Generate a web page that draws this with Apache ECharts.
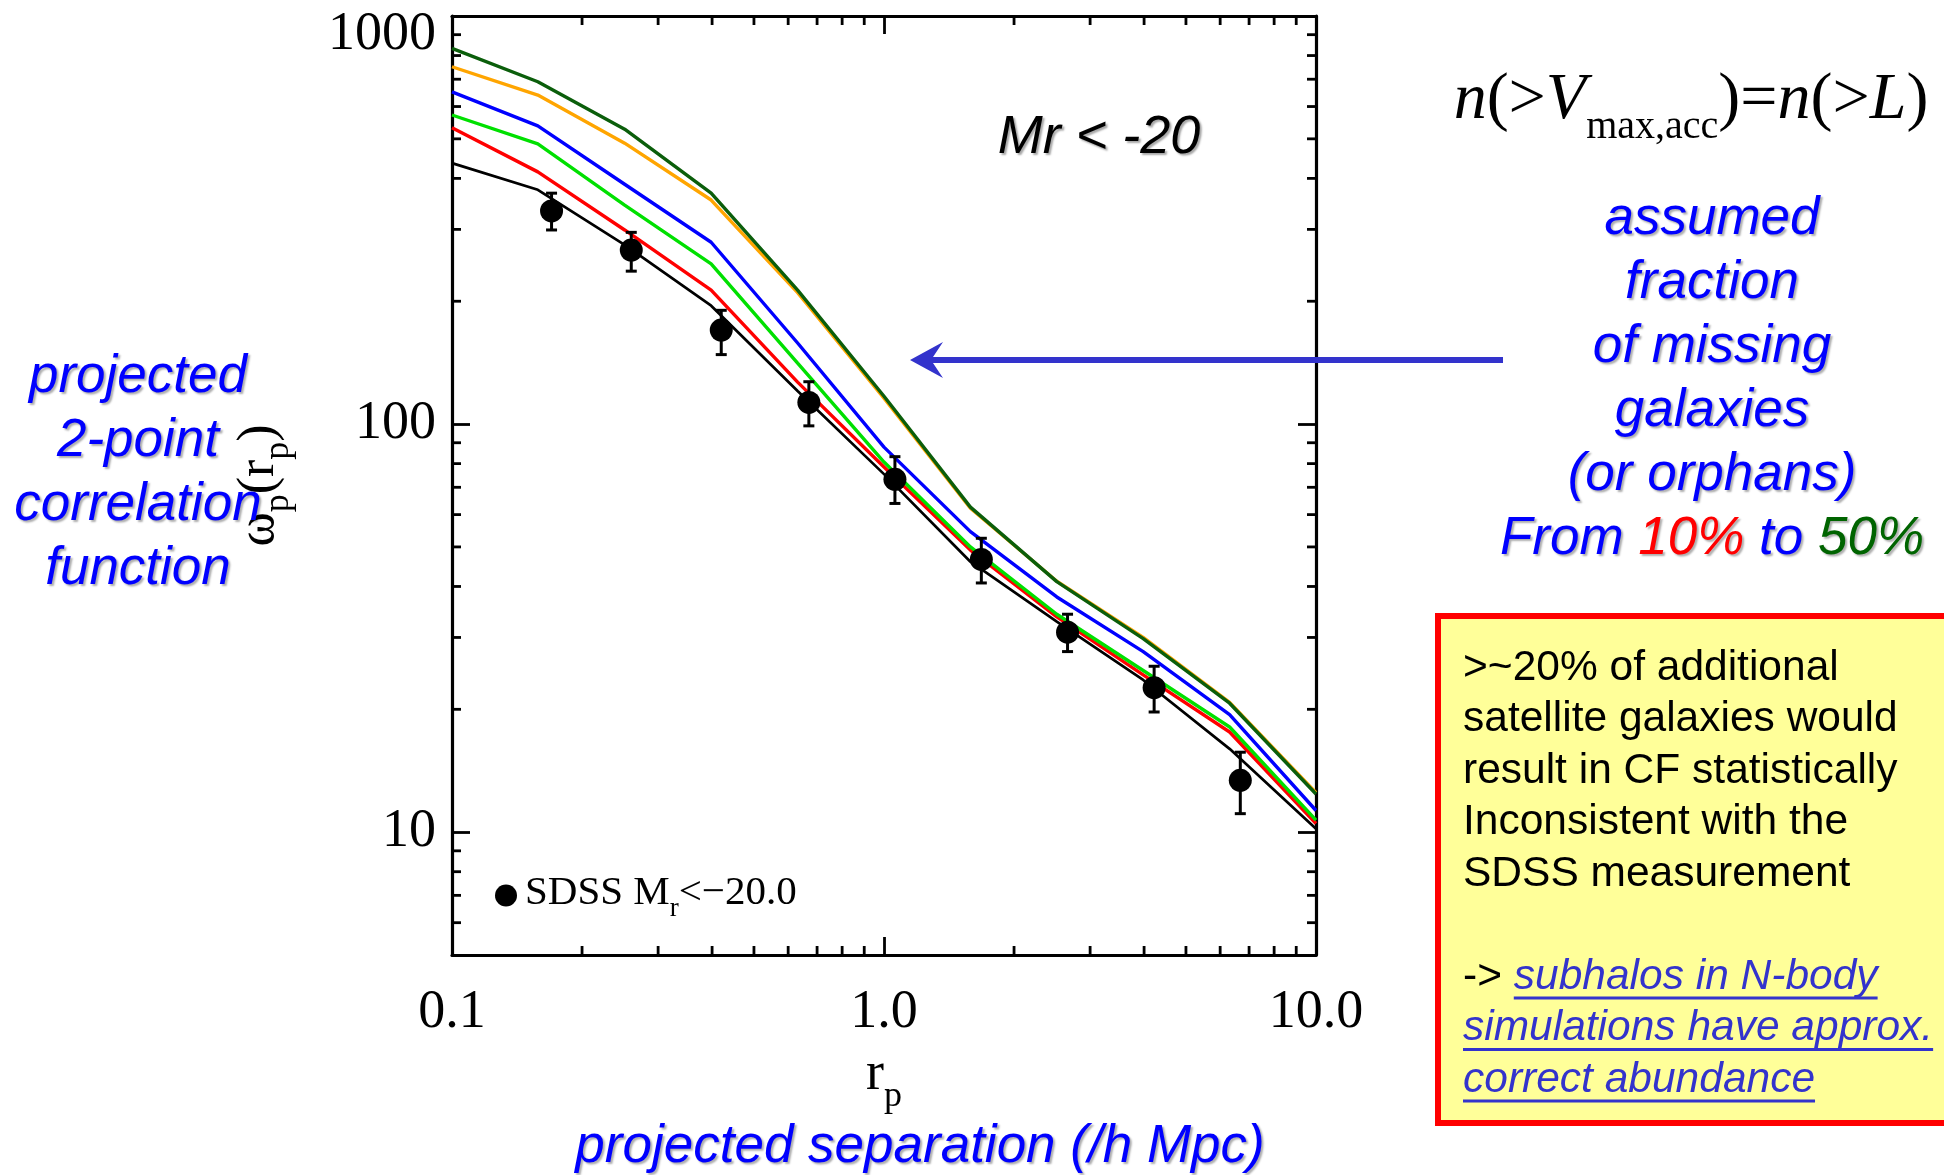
<!DOCTYPE html>
<html>
<head>
<meta charset="utf-8">
<script src="https://cdn.jsdelivr.net/npm/echarts@6/dist/echarts.min.js"></script>
<style>
  html, body { margin: 0; padding: 0; background: #ffffff; }
  #chart { width: 1944px; height: 1175px; }
</style>
</head>
<body>
<div id="chart"></div>
<script>
// Projected separation bins of the model curves (h^-1 Mpc)
const modelRp = [0.1, 0.158, 0.251, 0.398, 0.631, 1.0, 1.585, 2.512, 3.981, 6.310, 10.0];
// w_p(r_p) for the subhalo model with different fractions of orphan galaxies
const wpNoOrphans = [436, 375, 275, 195, 120.5, 75.4, 46.0, 32.8, 23.6, 16.0, 10.2];
const wpOrphans10 = [532, 415, 299, 213, 126.7, 78.5, 49.1, 33.7, 24.3, 17.6, 10.5];
const wpOrphans20 = [572, 486, 344, 247, 141, 80.7, 50.0, 34.2, 24.9, 18.1, 10.7];
const wpOrphans30 = [652, 538, 387, 279, 158, 87.8, 54.5, 37.7, 27.7, 19.4, 11.3];
const wpOrphans40 = [751, 640, 488, 354, 210, 115.8, 62.2, 41.2, 30.0, 20.8, 12.5];
const wpOrphans50 = [833, 690, 528, 368, 213, 117, 62.6, 41.1, 29.8, 20.7, 12.4];

// SDSS measurement, Mr < -20
const sdssRp = [0.17, 0.26, 0.42, 0.67, 1.06, 1.68, 2.66, 4.22, 6.68];
const sdssWp = [333, 267, 170, 113, 73.2, 46.6, 30.9, 22.6, 13.4];
const sdssLo = [299, 237, 148, 99, 63.9, 40.8, 27.7, 19.7, 11.1];
const sdssHi = [368, 295, 190, 127, 83.2, 52.5, 34.2, 25.5, 15.7];

// Axes
const X_MIN = 0.1, X_MAX = 10;
const Y_MIN = 5, Y_MAX = 1000;
const xTickValues = [0.1, 1, 10];
const xTickLabels = ['0.1', '1.0', '10.0'];
const yTickValues = [10, 100, 1000];
const yTickLabels = ['10', '100', '1000'];
const xMinorTicks = [0.2, 0.3, 0.4, 0.5, 0.6, 0.7, 0.8, 0.9, 2, 3, 4, 5, 6, 7, 8, 9];
const yMinorTicks = [6, 7, 8, 9, 20, 30, 40, 50, 60, 70, 80, 90, 200, 300, 400, 500, 600, 700, 800, 900];

const SERIF = '"Liberation Serif", "DejaVu Serif", serif';
const SANS = '"Liberation Sans", Arial, sans-serif';
const BLUE = '#0000FF';
const LINK = '#3333CC';
const MAJOR_LEN = 18, MINOR_LEN = 9, TICK_W = 2.8;

function labelFor(values, labels, v) {
  for (let i = 0; i < values.length; i++) {
    if (Math.abs(Math.log10(v) - Math.log10(values[i])) < 1e-6) return labels[i];
  }
  return '';
}

const pairs = ys => modelRp.map((x, i) => [x, ys[i]]);
const modelLine = (name, ys, color, width, z) => ({
  name, type: 'line', data: pairs(ys), symbol: 'none', showSymbol: false,
  lineStyle: { color, width }, z, silent: true
});

const chart = echarts.init(document.getElementById('chart'), null, { renderer: 'canvas' });

// Measure text widths for underlines of the italic link text
const mctx = document.createElement('canvas').getContext('2d');
function textWidth(font, s) { mctx.font = font; return mctx.measureText(s).width; }

const boxFont = '42.5px ' + SANS;
const linkFont = 'italic 42.5px ' + SANS;
const boxX = 1463;
const boxLines = [
  '>~20% of additional',
  'satellite galaxies would',
  'result in CF statistically',
  'Inconsistent with the',
  'SDSS measurement'
];
const linkLines = ['subhalos in N-body', 'simulations have approx.', 'correct abundance'];
const boxLineStep = 51.5, boxFirstMid = 668;

const shadow = { textShadowColor: 'rgba(0,0,0,0.32)', textShadowOffsetX: 2, textShadowOffsetY: 2, textShadowBlur: 2 };

const graphics = [];
function addText(text, x, y, font, fill, align, extra) {
  graphics.push({
    type: 'text', z: 50,
    style: Object.assign({ text, x, y, font, fill, align: align || 'center', verticalAlign: 'middle' }, extra || {})
  });
}

// Left annotation
['projected', '2-point', 'correlation', 'function'].forEach((t, i) =>
  addText(t, 138, 377 + i * 64, 'italic 53px ' + SANS, BLUE, 'center', shadow));

// Sample label
addText('Mr < -20', 1099, 138, 'italic 54px ' + SANS, '#000', 'center',
  { textShadowColor: 'rgba(0,0,0,0.35)', textShadowOffsetX: 2, textShadowOffsetY: 2, textShadowBlur: 2 });

// Abundance matching relation
graphics.push({
  type: 'text', z: 50,
  style: {
    text: '{i|n}{r|(>}{i|V}{s|max,acc}{r|)=}{i|n}{r|(>}{i|L}{r|)}',
    x: 1691, y: 114, align: 'center', verticalAlign: 'middle',
    rich: {
      i: { fontFamily: SERIF, fontStyle: 'italic', fontSize: 66, lineHeight: 66, padding: [0, 0, 13, 0], verticalAlign: 'bottom', fill: '#000', color: '#000' },
      r: { fontFamily: SERIF, fontSize: 66, lineHeight: 66, padding: [0, 0, 13, 0], verticalAlign: 'bottom', fill: '#000', color: '#000' },
      s: { fontFamily: SERIF, fontSize: 40, lineHeight: 40, verticalAlign: 'bottom', fill: '#000', color: '#000' }
    }
  }
});

// Right annotation
['assumed', 'fraction', 'of missing', 'galaxies', '(or orphans)'].forEach((t, i) =>
  addText(t, 1712, 219 + i * 64, 'italic 53px ' + SANS, BLUE, 'center', shadow));
graphics.push({
  type: 'text', z: 50,
  style: Object.assign({
    text: '{b|From }{r|10%}{b| to }{g|50%}', x: 1712, y: 539, align: 'center', verticalAlign: 'middle',
    rich: {
      b: { font: 'italic 53px ' + SANS, fill: BLUE, color: BLUE },
      r: { font: 'italic 53px ' + SANS, fill: '#FF0000', color: '#FF0000' },
      g: { font: 'italic 53px ' + SANS, fill: '#006400', color: '#006400' }
    }
  }, shadow)
});

// Arrow pointing at the model curves
graphics.push({
  type: 'line', z: 40,
  shape: { x1: 1503, y1: 360, x2: 926, y2: 360 },
  style: { stroke: LINK, lineWidth: 6 }
});
graphics.push({
  type: 'polygon', z: 41,
  shape: { points: [[910, 360], [943, 342], [931, 360], [943, 378]] },
  style: { fill: LINK }
});

// Conclusion box
graphics.push({
  type: 'rect', z: 30,
  shape: { x: 1438, y: 616, width: 620, height: 507 },
  style: { fill: '#FFFF99', stroke: '#FF0000', lineWidth: 6 }
});
boxLines.forEach((t, i) => addText(t, boxX, boxFirstMid + i * boxLineStep, boxFont, '#000', 'left'));
const arrowTxt = '-> ';
const arrowW = textWidth(boxFont, arrowTxt);
addText(arrowTxt, boxX, boxFirstMid + 6 * boxLineStep, boxFont, '#000', 'left');
linkLines.forEach((t, i) => {
  const x0 = i === 0 ? boxX + arrowW : boxX;
  const mid = boxFirstMid + (6 + i) * boxLineStep;
  addText(t, x0, mid, linkFont, LINK, 'left');
  const w = textWidth(linkFont, t);
  graphics.push({
    type: 'line', z: 51,
    shape: { x1: x0, y1: mid + 21, x2: x0 + w, y2: mid + 21 },
    style: { stroke: LINK, lineWidth: 3 }
  });
});

// Bottom annotation
addText('projected separation (/h Mpc)', 920, 1147, 'italic 53px ' + SANS, BLUE, 'center', shadow);

const axisLineStyle = { show: true, lineStyle: { color: '#000', width: 3.2 } };
const majorTick = { show: true, inside: true, length: MAJOR_LEN, lineStyle: { color: '#000', width: TICK_W } };

const option = {
  animation: false,
  backgroundColor: '#ffffff',
  grid: { left: 452, top: 16, width: 864, height: 939, containLabel: false, outerBoundsMode: 'none' },
  legend: {
    data: ['SDSS'],
    left: 490, top: 868,
    itemWidth: 22, itemHeight: 22, icon: 'circle',
    itemStyle: { opacity: 1 },
    formatter: () => '{a|SDSS M}{s|r}{a|<\u221220.0}',
    textStyle: {
      padding: [12, 0, 0, 3],
      rich: {
        a: { fontFamily: SERIF, fontSize: 41, lineHeight: 41, padding: [0, 0, 8, 0], verticalAlign: 'bottom', color: '#000' },
        s: { fontFamily: SERIF, fontSize: 27, lineHeight: 27, verticalAlign: 'bottom', color: '#000' }
      }
    }
  },
  xAxis: [
    {
      type: 'log', logBase: 10, min: X_MIN, max: X_MAX, position: 'bottom',
      axisLine: axisLineStyle, axisTick: majorTick,
      axisLabel: {
        show: true, margin: 31, color: '#000', fontFamily: SERIF, fontSize: 54, lineHeight: 54,
        formatter: v => labelFor(xTickValues, xTickLabels, v)
      },
      splitLine: { show: false },
      name: '{m|r}{s|p}', nameLocation: 'middle', nameGap: 106,
      nameTextStyle: {
        rich: {
          m: { fontFamily: SERIF, fontSize: 54, lineHeight: 54, padding: [0, 0, 13, 0], verticalAlign: 'bottom', color: '#000' },
          s: { fontFamily: SERIF, fontSize: 36, lineHeight: 36, verticalAlign: 'bottom', color: '#000' }
        }
      }
    },
    {
      type: 'log', logBase: 10, min: X_MIN, max: X_MAX, position: 'top',
      axisLine: axisLineStyle, axisTick: majorTick, axisLabel: { show: false }, splitLine: { show: false }
    }
  ],
  yAxis: [
    {
      type: 'log', logBase: 10, min: Y_MIN, max: Y_MAX, position: 'left',
      axisLine: axisLineStyle, axisTick: majorTick,
      axisLabel: {
        show: true, margin: 16,
        formatter: v => {
          const s = labelFor(yTickValues, yTickLabels, v);
          if (!s) return '';
          return v > 500 ? '{t|' + s + '}' : '{n|' + s + '}';
        },
        rich: {
          n: { fontFamily: SERIF, fontSize: 54, lineHeight: 54, color: '#000' },
          t: { fontFamily: SERIF, fontSize: 54, lineHeight: 54, color: '#000', padding: [37, 0, 0, 0] }
        }
      },
      splitLine: { show: false },
      name: '{m|\u03C9}{s|p}{m|(r}{s|p}{m|)}', nameLocation: 'middle', nameGap: 155, nameRotate: 90,
      nameTextStyle: {
        rich: {
          m: { fontFamily: SERIF, fontSize: 52, lineHeight: 52, padding: [0, 0, 12, 0], verticalAlign: 'bottom', color: '#000' },
          s: { fontFamily: SERIF, fontSize: 36, lineHeight: 36, verticalAlign: 'bottom', color: '#000' }
        }
      }
    },
    {
      type: 'log', logBase: 10, min: Y_MIN, max: Y_MAX, position: 'right',
      axisLine: axisLineStyle, axisTick: majorTick, axisLabel: { show: false }, splitLine: { show: false }
    }
  ],
  graphic: graphics,
  series: [
    // minor ticks on bottom and top edges
    {
      type: 'custom', silent: true, z: 20, clip: false,
      data: xMinorTicks.map(v => [v, Y_MIN]),
      renderItem: (params, api) => {
        const v = api.value(0);
        const b = api.coord([v, Y_MIN]);
        const t = api.coord([v, Y_MAX]);
        const st = { stroke: '#000', lineWidth: TICK_W };
        return { type: 'group', children: [
          { type: 'line', shape: { x1: b[0], y1: b[1], x2: b[0], y2: b[1] - MINOR_LEN }, style: st },
          { type: 'line', shape: { x1: t[0], y1: t[1], x2: t[0], y2: t[1] + MINOR_LEN }, style: st }
        ] };
      }
    },
    // minor ticks on left and right edges
    {
      type: 'custom', silent: true, z: 20, clip: false,
      data: yMinorTicks.map(v => [X_MIN, v]),
      renderItem: (params, api) => {
        const v = api.value(1);
        const l = api.coord([X_MIN, v]);
        const r = api.coord([X_MAX, v]);
        const st = { stroke: '#000', lineWidth: TICK_W };
        return { type: 'group', children: [
          { type: 'line', shape: { x1: l[0], y1: l[1], x2: l[0] + MINOR_LEN, y2: l[1] }, style: st },
          { type: 'line', shape: { x1: r[0], y1: r[1], x2: r[0] - MINOR_LEN, y2: r[1] }, style: st }
        ] };
      }
    },
    modelLine('0%', wpNoOrphans, '#000000', 2.7, 3),
    modelLine('10%', wpOrphans10, '#FF0000', 3.4, 4),
    modelLine('20%', wpOrphans20, '#00E000', 3.4, 5),
    modelLine('30%', wpOrphans30, '#0000FF', 3.4, 6),
    modelLine('40%', wpOrphans40, '#FFA500', 3.4, 7),
    modelLine('50%', wpOrphans50, '#0B5E0B', 3.4, 8),
    // SDSS error bars
    {
      type: 'custom', silent: true, z: 9,
      data: sdssRp.map((x, i) => [x, sdssLo[i], sdssHi[i]]),
      encode: { x: 0, y: [1, 2] },
      renderItem: (params, api) => {
        const lo = api.coord([api.value(0), api.value(1)]);
        const hi = api.coord([api.value(0), api.value(2)]);
        const st = { stroke: '#000', lineWidth: 3 };
        const cw = 5.5;
        return { type: 'group', children: [
          { type: 'line', shape: { x1: lo[0], y1: lo[1], x2: hi[0], y2: hi[1] }, style: st },
          { type: 'line', shape: { x1: lo[0] - cw, y1: lo[1], x2: lo[0] + cw, y2: lo[1] }, style: st },
          { type: 'line', shape: { x1: hi[0] - cw, y1: hi[1], x2: hi[0] + cw, y2: hi[1] }, style: st }
        ] };
      }
    },
    {
      name: 'SDSS', type: 'scatter', z: 10,
      data: sdssRp.map((x, i) => [x, sdssWp[i]]),
      symbol: 'circle', symbolSize: 23,
      itemStyle: { color: '#000000', opacity: 1 }
    }
  ]
};

chart.setOption(option);
</script>
</body>
</html>
